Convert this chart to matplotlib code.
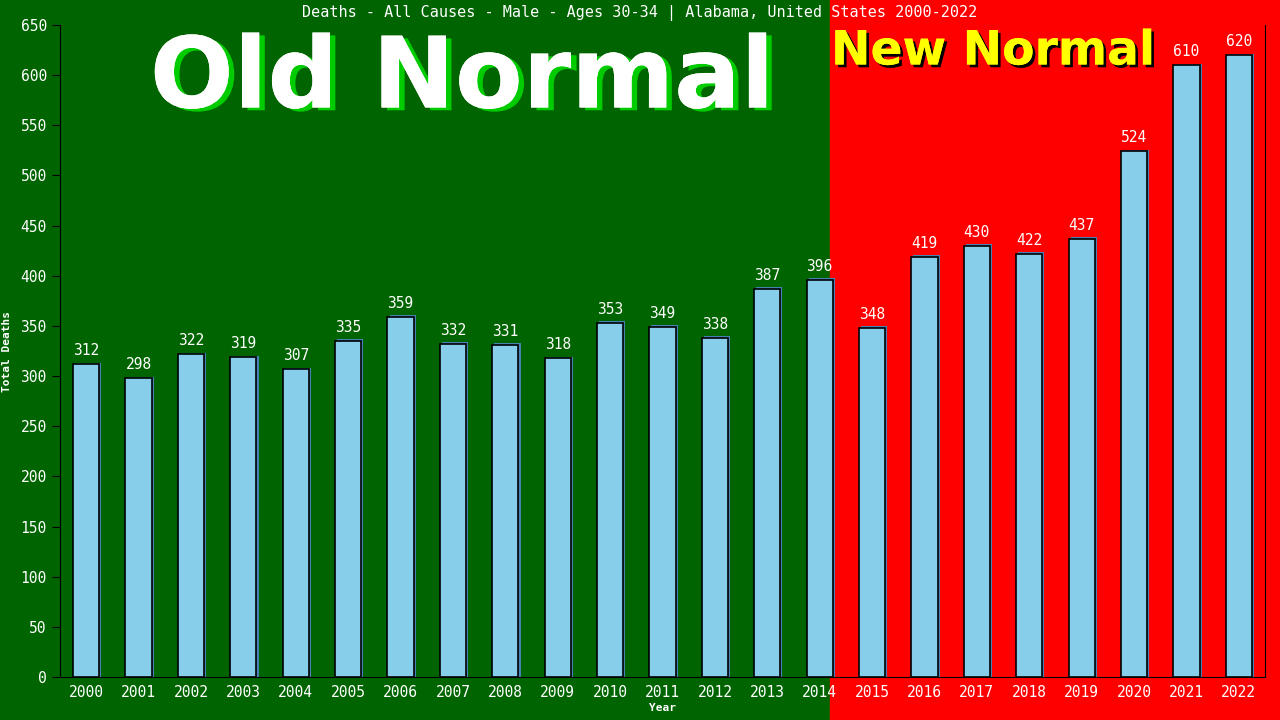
import matplotlib.pyplot as plt
from matplotlib.patches import Rectangle
import matplotlib.patheffects as pe

years = [str(y) for y in range(2000, 2023)]
deaths = [312, 298, 322, 319, 307, 335, 359, 332, 331, 318, 353, 349, 338,
          387, 396, 348, 419, 430, 422, 437, 524, 610, 620]
split_at = 14.2   # where old normal ends (data units)

fig = plt.figure(figsize=(12.8, 7.2), dpi=100)
ax = fig.add_axes([60/1280, 43/720, 1205/1280, 652/720])
ax.set_xlim(-0.5, 22.5)
ax.set_ylim(0, 650)

# background split, figure-wide
frac = (60 + (split_at + 0.5) / 23 * 1205) / 1280
fig.add_artist(Rectangle((0, 0), frac, 1, transform=fig.transFigure,
                         color='#006400', zorder=-10))
fig.add_artist(Rectangle((frac, 0), 1 - frac, 1, transform=fig.transFigure,
                         color='#ff0000', zorder=-10))
ax.patch.set_alpha(0)

x = list(range(len(years)))
# shadow then bars
ax.bar([i + 0.04 for i in x], [d + 1.5 for d in deaths], width=0.5,
       color='#4682b4', zorder=2)
ax.bar(x, deaths, width=0.5, color='#87ceeb', edgecolor='black',
       linewidth=1.2, zorder=3)
for i, d in zip(x, deaths):
    ax.text(i, d + 6, str(d), ha='center', va='bottom', color='white',
            fontsize=10.5, family='DejaVu Sans Mono', zorder=4)

ax.set_xticks(x)
ax.set_xticklabels(years)
ax.set_yticks(range(0, 651, 50))
ax.tick_params(axis='y', colors='black', labelcolor='white', labelsize=10.5,
               length=6, direction='out')
ax.tick_params(axis='x', length=0, labelcolor='white', labelsize=10.5, pad=6)
for lab in ax.get_xticklabels() + ax.get_yticklabels():
    lab.set_family('DejaVu Sans Mono')
for s in ['left', 'bottom', 'right']:
    ax.spines[s].set_color('black')
ax.spines['top'].set_visible(False)

ax.set_ylabel('Total Deaths', color='white', fontsize=8, fontweight='bold',
              family='DejaVu Sans Mono', labelpad=6)
ax.set_xlabel('Year', color='white', fontsize=8, fontweight='bold',
              family='DejaVu Sans Mono', labelpad=2)

fig.text(0.5, 0.982, 'Deaths - All Causes - Male - Ages 30-34 | Alabama, United States 2000-2022',
         ha='center', va='center', color='white', fontsize=10.9,
         family='DejaVu Sans Mono')

fig.text(462/1280, 1 - 80/720, 'Old Normal', ha='center', va='center',
         color='white', fontsize=71, fontweight='bold',
         path_effects=[pe.withSimplePatchShadow(offset=(4, -2), shadow_rgbFace='#00cc00', alpha=1),
                       pe.Normal()])
fig.text(831/1280, 1 - 52/720, 'New Normal', ha='left', va='center',
         color='#ffff00', fontsize=34, fontweight='bold',
         path_effects=[pe.withSimplePatchShadow(offset=(2, -2), shadow_rgbFace='black', alpha=1),
                       pe.Normal()])

fig.savefig('out.png', dpi=100)
